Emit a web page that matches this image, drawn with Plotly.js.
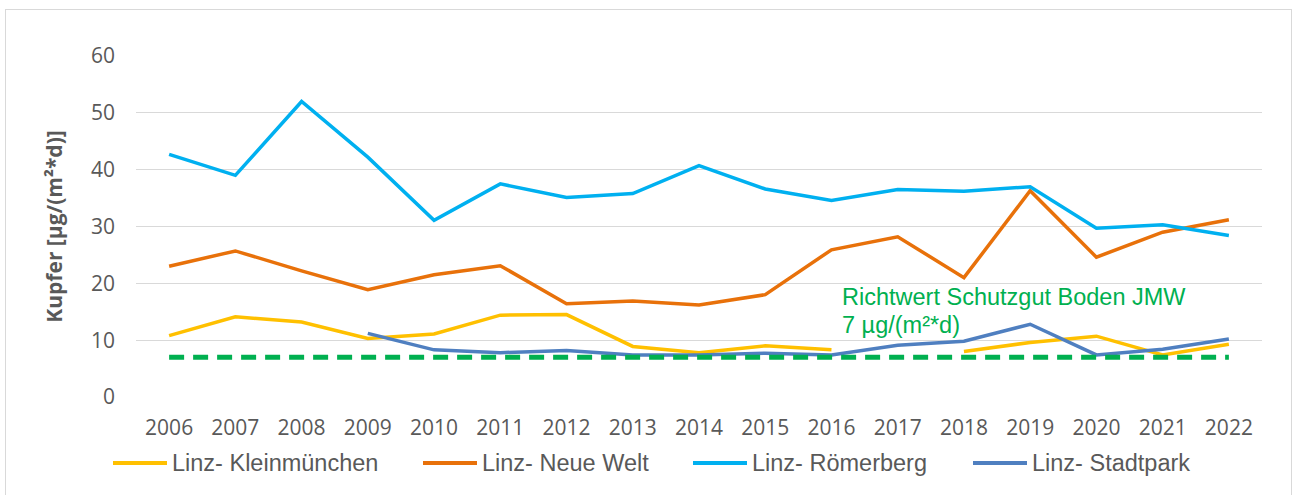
<!DOCTYPE html>
<html>
<head>
<meta charset="utf-8">
<script src="https://cdn.plot.ly/plotly-3.0.1.min.js"></script>
<style>
html,body{margin:0;padding:0;background:#fff;}
#chart{position:absolute;left:0;top:0;width:1292px;height:495px;}
#frame{position:absolute;left:5px;top:9px;width:1285px;height:500px;border:1px solid #d9d9d9;pointer-events:none;}
</style>
</head>
<body>
<div id="chart"></div>
<div id="frame"></div>
<script>
const years = ["2006","2007","2008","2009","2010","2011","2012","2013","2014","2015","2016","2017","2018","2019","2020","2021","2022"];
const kleinmuenchen = [10.8,14.1,13.2,10.3,11.1,14.4,14.5,8.9,7.8,9.0,8.3,null,8.0,9.6,10.7,7.4,9.3];
const neueWelt = [23.0,25.7,22.2,18.9,21.5,23.1,16.4,16.9,16.2,18.0,25.9,28.2,21.0,36.3,24.6,29.0,31.2];
const roemerberg = [42.7,39.0,52.0,42.2,31.1,37.5,35.1,35.8,40.7,36.6,34.6,36.5,36.2,37.0,29.7,30.3,28.4];
const stadtpark = [null,null,null,11.2,8.3,7.8,8.2,7.4,7.4,7.7,7.4,9.1,9.8,12.8,7.4,8.4,10.2];
const richtwert = [7,7,7,7,7,7,7,7,7,7,7,7,7,7,7,7,7];
const seriesNames = ["Linz- Kleinmünchen","Linz- Neue Welt","Linz- Römerberg","Linz- Stadtpark"];
const seriesColors = ["#FFC000","#E8710A","#00B0F0","#4F7FC0"];
const yTitle = "Kupfer [µg/(m²*d)]";
const noteLine1 = "Richtwert Schutzgut Boden JMW";
const noteLine2 = "7 µg/(m²*d)";

const seriesValues = [kleinmuenchen, neueWelt, roemerberg, stadtpark];
const traces = seriesValues.map((v,i)=>({
  x: years, y: v, type:'scatter', mode:'lines', name: seriesNames[i],
  line:{color: seriesColors[i], width:3.5}, connectgaps:false, hoverinfo:'x+y+name'
}));
traces.push({
  x: years, y: richtwert, type:'scatter', mode:'lines', name:'Richtwert',
  line:{color:'#00B050', width:5, dash:'15px,9px'}, showlegend:false
});

// manual legend (positions in px converted to paper coords)
const W=1292, H=495, mL=136, mR=30, mT=56, mB=98;
const pw=W-mL-mR, ph=H-mT-mB;
const px2x = p => (p-mL)/pw;
const py2y = p => (H-mB-p)/ph;
const legStarts=[113,423,693,973];
const legY=463;
const shapes=[], annotations=[];
seriesNames.forEach((n,i)=>{
  shapes.push({type:'line', xref:'paper', yref:'paper', x0:px2x(legStarts[i]), x1:px2x(legStarts[i]+54),
    y0:py2y(legY), y1:py2y(legY), line:{color:seriesColors[i], width:4}});
  annotations.push({xref:'paper', yref:'paper', x:px2x(legStarts[i]+57), y:py2y(legY), xanchor:'left', yanchor:'middle',
    text:n, showarrow:false, font:{family:'Liberation Sans, Arial, sans-serif', size:23.5, color:'#595959'}});
});
annotations.push({xref:'paper', yref:'paper', x:px2x(840), y:py2y(297), xanchor:'left', yanchor:'middle',
  text:noteLine1, showarrow:false, font:{family:'Liberation Sans, Arial, sans-serif', size:23.5, color:'#00B050'}});
annotations.push({xref:'paper', yref:'paper', x:px2x(840), y:py2y(325), xanchor:'left', yanchor:'middle',
  text:noteLine2, showarrow:false, font:{family:'Liberation Sans, Arial, sans-serif', size:23.5, color:'#00B050'}});

const layout = {
  width:W, height:H,
  margin:{l:mL, r:mR, t:mT, b:mB, pad:0},
  paper_bgcolor:'#fff', plot_bgcolor:'#fff',
  showlegend:false,
  font:{family:'Open Sans, sans-serif', color:'#595959'},
  xaxis:{type:'category', range:[-0.5,16.5], showgrid:false, zeroline:false, showline:false,
    ticks:'', tickfont:{family:'Open Sans, sans-serif', size:21, color:'#595959'}, ticklabelstandoff:16},
  yaxis:{range:[0,60], tickvals:[0,10,20,30,40,50,60], showgrid:true, gridcolor:'#d9d9d9', gridwidth:1.3,
    zeroline:false, showline:false, ticks:'', tickfont:{family:'Open Sans, sans-serif', size:21, color:'#595959'},
    ticklabelstandoff:20,
    title:{text:yTitle, standoff:22, font:{family:'Open Sans, sans-serif', size:21, color:'#595959', weight:'bold'}}},
  shapes:shapes, annotations:annotations
};
Plotly.newPlot('chart', traces, layout, {displayModeBar:false, staticPlot:true});
</script>
</body>
</html>
